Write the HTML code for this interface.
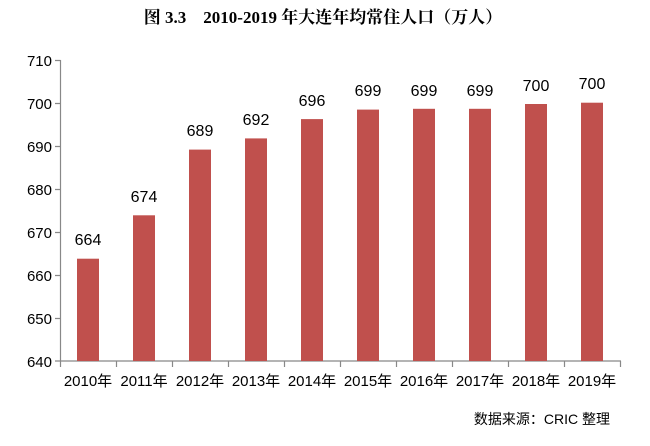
<!DOCTYPE html>
<html><head><meta charset="utf-8"><style>body{margin:0;background:#fff}</style></head>
<body>
<svg width="650" height="441" xmlns="http://www.w3.org/2000/svg" font-family="Liberation Sans, Noto Sans CJK SC, sans-serif">
<rect width="650" height="441" fill="#fff"/>
<text x="323" y="23" text-anchor="middle" font-family="Liberation Serif, Noto Serif CJK SC, serif" font-weight="bold" font-size="17">图 3.3　2010-2019 年大连年均常住人口（万人）</text>
<g stroke="#888" stroke-width="1.2" fill="none">
<line x1="60.5" y1="60" x2="60.5" y2="361"/>
<line x1="60" y1="361" x2="621" y2="361"/>
<path d="M55 60.5H60.5M55 103.5H60.5M55 146.5H60.5M55 189.5H60.5M55 232.5H60.5M55 275.5H60.5M55 318.5H60.5M55 361H60.5"/>
<path d="M60.5 361V367M116.5 361V367M172.5 361V367M228.5 361V367M284.5 361V367M340.5 361V367M396.5 361V367M452.5 361V367M508.5 361V367M564.5 361V367M620.5 361V367"/>
</g>
<g font-size="15" text-anchor="end" fill="#000">
<text x="52" y="66">710</text><text x="52" y="109">700</text><text x="52" y="152">690</text><text x="52" y="195">680</text><text x="52" y="238">670</text><text x="52" y="281">660</text><text x="52" y="324">650</text><text x="52" y="367">640</text>
</g>
<g fill="#c0504d">
<rect x="77" y="258.7" width="22" height="102.3"/>
<rect x="133" y="215.3" width="22" height="145.7"/>
<rect x="189" y="149.6" width="22" height="211.4"/>
<rect x="245" y="138.4" width="22" height="222.6"/>
<rect x="301" y="119.1" width="22" height="241.9"/>
<rect x="357" y="109.6" width="22" height="251.4"/>
<rect x="413" y="108.8" width="22" height="252.2"/>
<rect x="469" y="108.8" width="22" height="252.2"/>
<rect x="525" y="104" width="22" height="257"/>
<rect x="581" y="102.7" width="22" height="258.3"/>
</g>
<g font-size="16" text-anchor="middle" fill="#000">
<text x="88" y="245">664</text><text x="144" y="202">674</text><text x="200" y="136">689</text><text x="256" y="125">692</text><text x="312" y="106">696</text><text x="368" y="96">699</text><text x="424" y="96">699</text><text x="480" y="96">699</text><text x="536" y="91">700</text><text x="592" y="89">700</text>
</g>
<g font-size="15" text-anchor="middle" fill="#000">
<text x="88" y="386">2010年</text><text x="144" y="386">2011年</text><text x="200" y="386">2012年</text><text x="256" y="386">2013年</text><text x="312" y="386">2014年</text><text x="368" y="386">2015年</text><text x="424" y="386">2016年</text><text x="480" y="386">2017年</text><text x="536" y="386">2018年</text><text x="592" y="386">2019年</text>
</g>
<text x="610" y="424" text-anchor="end" font-size="14">数据来源：CRIC 整理</text>
</svg>
</body></html>
